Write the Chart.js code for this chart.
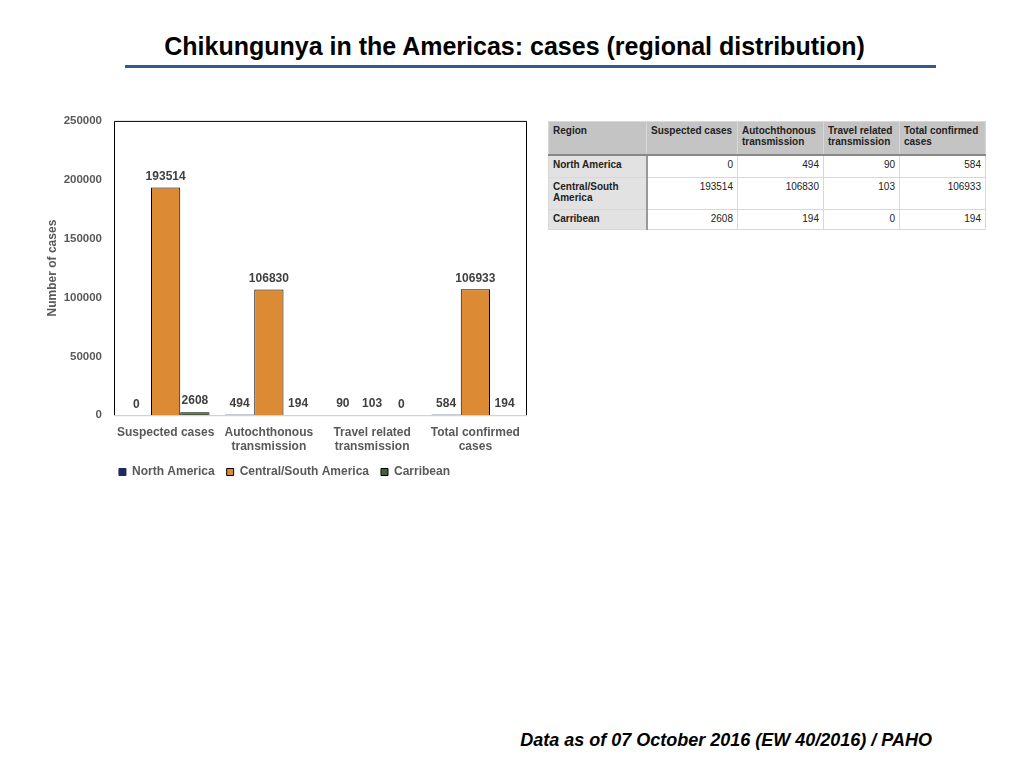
<!DOCTYPE html>
<html>
<head>
<meta charset="utf-8">
<script src="https://cdn.jsdelivr.net/npm/chart.js@4/dist/chart.umd.min.js"></script>
<style>
  body { margin: 0; width: 1024px; height: 768px; background: #fff; position: relative; overflow: hidden; font-family: "Liberation Sans", Arial, sans-serif; }
  #title { position: absolute; left: 0; width: 1029px; top: 32px; text-align: center; font-weight: bold; font-size: 25px; color: #000; }
  #rule { position: absolute; left: 125px; top: 65px; width: 811px; height: 3px; background: #2f5a92; }
  #footer { position: absolute; right: 92px; top: 730px; font-weight: bold; font-style: italic; font-size: 18px; color: #000; }
  #chartBox { position: absolute; left: 42px; top: 102px; width: 495px; height: 386px; }
  table { position: absolute; left: 548px; top: 121px; width: 437px; table-layout: fixed; border-collapse: collapse; font-size: 10px; color: #222; }
  td, th { border: 1px solid #d8d8d8; padding: 3px 4px; vertical-align: top; overflow: hidden; }
  th { background: #c4c4c4; text-align: left; font-weight: bold; height: 26px; white-space: nowrap; }
  td.r { background: #e2e2e2; font-weight: bold; border-right: 2px solid #999; }
  td.n { text-align: right; }
  tr.h th { border-bottom: 2px solid #888; }
</style>
</head>
<body>
<div id="title">Chikungunya in the Americas: cases (regional distribution)</div>
<div id="rule"></div>
<div id="chartBox"><canvas id="chart"></canvas></div>
<table id="tbl"></table>
<div id="footer">Data as of 07 October 2016 (EW 40/2016) / PAHO</div>
<script>
// categories and series
var categories = [['Suspected cases'], ['Autochthonous', 'transmission'], ['Travel related', 'transmission'], ['Total confirmed', 'cases']];
var tableHeaders = ['Region', 'Suspected cases', 'Autochthonous<br>transmission', 'Travel related<br>transmission', 'Total confirmed<br>cases'];
var regions = ['North America', 'Central/South America', 'Carribean'];
var northAmerica = [0, 494, 90, 584];
var centralSouth = [193514, 106830, 103, 106933];
var caribbean = [2608, 194, 0, 194];
var yTicks = [0, 50000, 100000, 150000, 200000, 250000];

var colors = ['#1c2b5e', '#dd8a35', '#4a6138'];
var series = [northAmerica, centralSouth, caribbean];

// table
var tbl = document.getElementById('tbl');
var colW = [98, 91, 86, 76, 86];
var html = '<colgroup>';
colW.forEach(function (w) { html += '<col style="width:' + w + 'px">'; });
html += '</colgroup><tr class="h">';
tableHeaders.forEach(function (h) { html += '<th>' + h + '</th>'; });
html += '</tr>';
var rowH = [15, 25, 13];
var rowNames = ['North America', 'Central/South<br>America', 'Carribean'];
series.forEach(function (s, r) {
    html += '<tr><td class="r" style="height:' + rowH[r] + 'px">' + rowNames[r] + '</td>';
    s.forEach(function (v) { html += '<td class="n">' + v + '</td>'; });
    html += '</tr>';
});
tbl.innerHTML = html;

// value labels above bars
var valueLabels = {
    id: 'valueLabels',
    afterDatasetsDraw: function (chart) {
        var ctx = chart.ctx;
        ctx.save();
        ctx.font = 'bold 12px "Liberation Sans", Arial, sans-serif';
        ctx.fillStyle = '#404040';
        ctx.textAlign = 'center';
        ctx.textBaseline = 'bottom';
        chart.data.datasets.forEach(function (ds, i) {
            chart.getDatasetMeta(i).data.forEach(function (bar, j) {
                ctx.fillText(ds.data[j], bar.x, bar.y - 5);
            });
        });
        ctx.restore();
    }
};

// plot frame
var frame = {
    id: 'frame',
    afterDraw: function (chart) {
        var a = chart.chartArea, ctx = chart.ctx;
        ctx.save();
        ctx.lineWidth = 1;
        ctx.strokeStyle = '#000';
        ctx.beginPath();
        ctx.moveTo(a.left + 0.5, a.bottom);
        ctx.lineTo(a.left + 0.5, a.top + 0.5);
        ctx.lineTo(a.right - 0.5, a.top + 0.5);
        ctx.lineTo(a.right - 0.5, a.bottom);
        ctx.stroke();
        ctx.strokeStyle = '#c8c8c8';
        ctx.beginPath();
        ctx.moveTo(a.left, a.bottom + 0.5);
        ctx.lineTo(a.right, a.bottom + 0.5);
        ctx.stroke();
        ctx.restore();
    }
};

var datasets = regions.map(function (name, i) {
    return {
        label: name,
        data: series[i],
        backgroundColor: colors[i],
        borderColor: i === 0 ? colors[0] : '#000',
        borderWidth: 1,
        borderSkipped: 'bottom'
    };
});

Chart.defaults.font.family = '"Liberation Sans", Arial, sans-serif';

new Chart(document.getElementById('chart'), {
    type: 'bar',
    data: { labels: categories, datasets: datasets },
    options: {
        responsive: true,
        maintainAspectRatio: false,
        animation: false,
        layout: { padding: { top: 5, right: 10 } },
        datasets: { bar: { categoryPercentage: 0.85, barPercentage: 1 } },
        plugins: {
            legend: {
                position: 'bottom',
                labels: {
                    boxWidth: 7, boxHeight: 7, padding: 12,
                    color: '#595959',
                    font: { size: 12, weight: 'bold' }
                }
            },
            tooltip: { enabled: false }
        },
        scales: {
            x: {
                grid: { display: false, drawTicks: false },
                border: { display: false },
                afterFit: function (axis) { axis.height -= 10; },
                ticks: { color: '#595959', font: { size: 12, weight: 'bold' }, maxRotation: 0, padding: 10 }
            },
            y: {
                min: 0, max: 250000,
                afterBuildTicks: function (axis) { axis.ticks = yTicks.map(function (v) { return { value: v }; }); },
                afterFit: function (axis) { axis.width = 72; },
                grid: { display: false, drawTicks: false },
                border: { display: false },
                title: { display: true, text: 'Number of cases', color: '#595959', font: { size: 12, weight: 'bold' }, padding: 3 },
                ticks: { color: '#595959', font: { size: 11.5, weight: 'bold' }, padding: 12, callback: function (v) { return String(v); } }
            }
        }
    },
    plugins: [valueLabels, frame]
});
</script>
</body>
</html>
